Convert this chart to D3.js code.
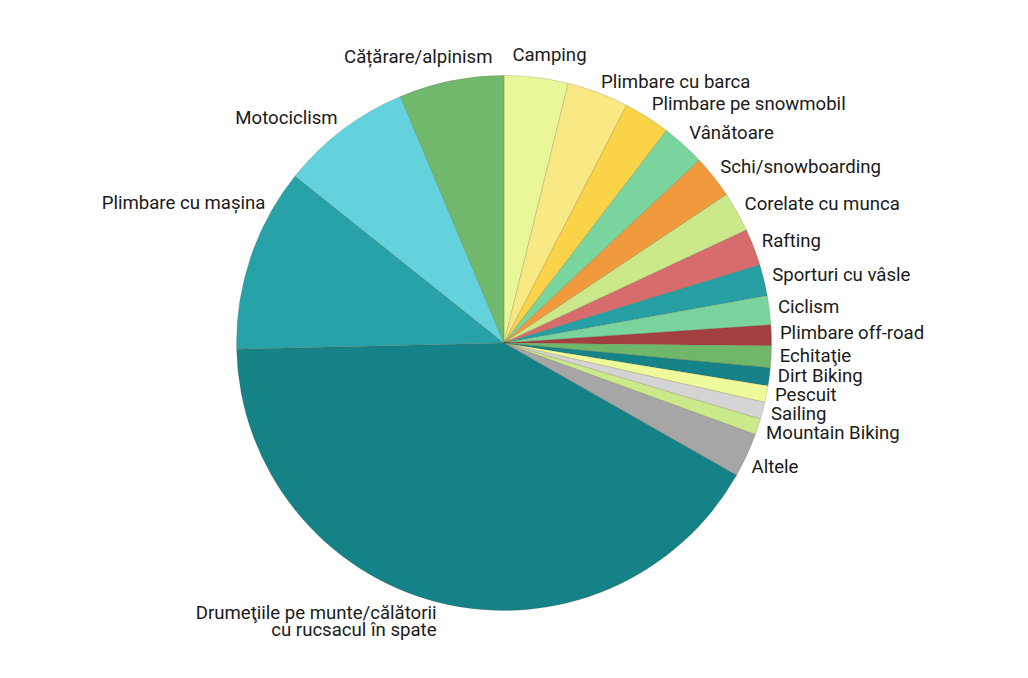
<!DOCTYPE html>
<html>
<head>
<meta charset="utf-8">
<script src="https://cdn.jsdelivr.net/npm/d3@7"></script>
<style>
    body { margin: 0; background: #ffffff; }
    #pie-area { width: 1028px; height: 678px; }
    .slice-label { font-family: Roboto, "Noto Sans", sans-serif; font-size: 18.6px; fill: #1a1a1a; }
</style>
</head>
<body>
<div id="pie-area"></div>
<script>

// activities, clockwise from 12 o'clock
let categories = [
    'Camping', 'Plimbare cu barca', 'Plimbare pe snowmobil', 'Vânătoare', 'Schi/snowboarding',
    'Corelate cu munca', 'Rafting', 'Sporturi cu vâsle', 'Ciclism', 'Plimbare off-road',
    'Echitaţie', 'Dirt Biking', 'Pescuit', 'Sailing', 'Mountain Biking', 'Altele',
    'Drumeţiile pe munte/călătorii cu rucsacul în spate', 'Plimbare cu mașina', 'Motociclism', 'Cățărare/alpinism'
]

// share of respondents, %
let shares = [
    3.86, 3.72, 2.81, 2.64, 2.61,
    2.42, 2.22, 1.89, 1.75, 1.25,
    1.31, 1.08, 1.00, 1.03, 0.97, 2.67,
    41.4, 11.1, 7.94, 6.33
]

let sliceColors = [
    '#e9f798', '#f8e985', '#fbd348', '#79d59d', '#f09a3d',
    '#cbe98a', '#d86b6b', '#26a0a5', '#79d59d', '#a33f40',
    '#6fb86b', '#158387', '#effa9b', '#d4d4d4', '#cbe98a', '#a6a6a6',
    '#148286', '#27a2a8', '#63d2dc', '#70b86b'
]

// line breaks for long labels
let labelLines = {
    'Drumeţiile pe munte/călătorii cu rucsacul în spate': ['Drumeţiile pe munte/călătorii', 'cu rucsacul în spate']
}

// hand tweaks where the original chart moved labels away from the slice middle
let labelNudge = {
    'Camping': [-25, -8],
    'Cățărare/alpinism': [43, -10],
    'Plimbare cu mașina': [23, -48],
    'Altele': [-3, 8]
}


class PieVis {

    constructor(parentElement) {
        this.parentElement = parentElement;
        this.data = categories.map((c, i) => ({name: c, value: shares[i], color: sliceColors[i]}))

        this.initVis()
    }

    initVis() {
        let vis = this;

        vis.width = 1028;
        vis.height = 678;
        vis.cx = 504;
        vis.cy = 343;
        vis.radius = 267.5;
        vis.labelRadius = 276;

        vis.svg = d3.select("#" + vis.parentElement).append("svg")
            .attr("width", vis.width)
            .attr("height", vis.height)

        vis.pieGroup = vis.svg.append('g')
            .attr('transform', `translate(${vis.cx}, ${vis.cy})`);

        vis.pie = d3.pie()
            .sort(null)
            .value(d => d.value)

        vis.arc = d3.arc()
            .innerRadius(0)
            .outerRadius(vis.radius)

        this.updateVis();
    }

    updateVis() {
        let vis = this;

        let arcs = vis.pie(vis.data)

        // slices
        vis.pieGroup.selectAll('path.slice')
            .data(arcs)
            .enter().append('path')
            .attr('class', 'slice')
            .attr('d', vis.arc)
            .attr('fill', d => d.data.color)
            .attr('stroke', 'rgba(90,80,40,0.25)')
            .attr('stroke-width', 0.8)

        // label positions: middle of slice on a slightly larger circle
        let labels = arcs.map(d => {
            let mid = (d.startAngle + d.endAngle) / 2;
            let x = vis.labelRadius * Math.sin(mid);
            let y = -vis.labelRadius * Math.cos(mid) + 4 * (1 - Math.cos(mid));
            return {name: d.data.name, mid: mid, x: x, y: y, right: mid < Math.PI}
        })

        // push overlapping labels down on the right side
        let rightSide = labels.filter(l => l.right).sort((a, b) => a.y - b.y)
        for (let i = 1; i < rightSide.length; i++) {
            if (rightSide[i].y - rightSide[i - 1].y < 19) {
                rightSide[i].y = rightSide[i - 1].y + 19
            }
        }

        labels.forEach(l => {
            let n = labelNudge[l.name] || [0, 0]
            l.x += n[0]
            l.y += n[1]
        })

        let text = vis.pieGroup.selectAll('text.slice-label')
            .data(labels)
            .enter().append('text')
            .attr('class', 'slice-label')
            .attr('text-anchor', d => d.right ? 'start' : 'end')
            .attr('transform', d => `translate(${d.x}, ${d.y})`)

        text.selectAll('tspan')
            .data(d => labelLines[d.name] || [d.name])
            .enter().append('tspan')
            .attr('x', 0)
            .attr('dy', (d, i) => i === 0 ? 0 : 17)
            .text(d => d)
    }
}

let pieVis = new PieVis('pie-area')

</script>
</body>
</html>
